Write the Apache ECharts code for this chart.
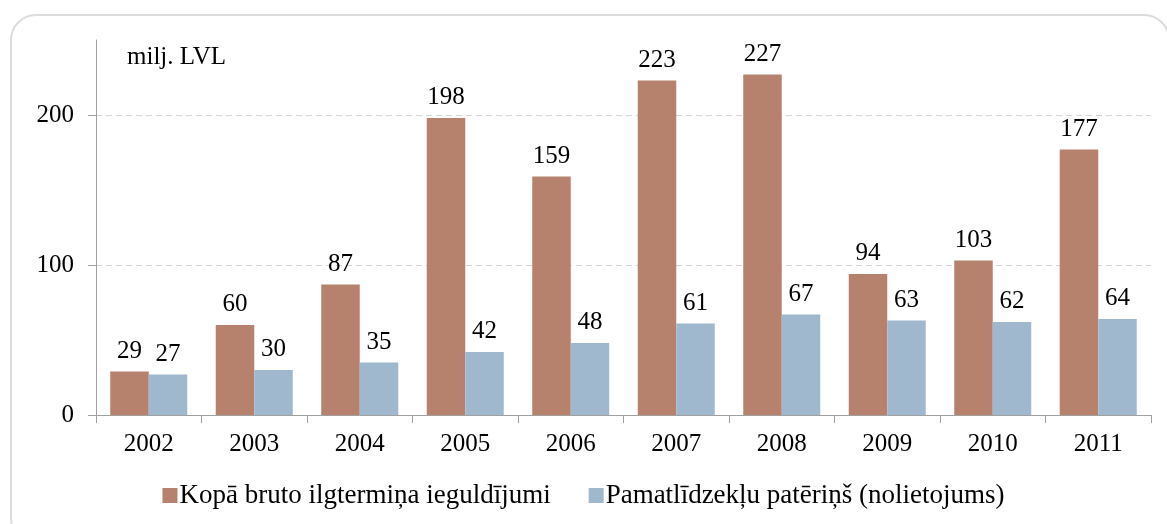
<!DOCTYPE html>
<html>
<head>
<meta charset="utf-8">
<script src="https://cdn.jsdelivr.net/npm/echarts@6/dist/echarts.min.js"></script>
<style>
    html, body { margin: 0; padding: 0; background: #fff; }
    #frame {
        position: absolute; left: 10px; top: 14px; width: 1160px; height: 530px;
        border: 2px solid #dcdcdc; border-radius: 26px; box-sizing: border-box;
    }
    #main { position: absolute; left: 0; top: 0; width: 1167px; height: 524px; }
</style>
</head>
<body>
<div id="frame"></div>
<div id="main"></div>
<script>
var years = ['2002', '2003', '2004', '2005', '2006', '2007', '2008', '2009', '2010', '2011'];
var grossInvestment = [29, 60, 87, 198, 159, 223, 227, 94, 103, 177];
var depreciation = [27, 30, 35, 42, 48, 61, 67, 63, 62, 64];
var seriesNames = ['Kopā bruto ilgtermiņa ieguldījumi', 'Pamatlīdzekļu patēriņš (nolietojums)'];
var yTicks = [0, 100, 200];
var unitLabel = 'milj. LVL';

var fontFam = '"Liberation Serif", "Times New Roman", serif';
var myChart = echarts.init(document.getElementById('main'));

var labelStyle = {
    show: true,
    position: 'top',
    distance: 8,
    color: '#000',
    fontFamily: fontFam,
    fontSize: 25
};

var option = {
    backgroundColor: 'transparent',
    animation: false,
    textStyle: { fontFamily: fontFam },
    title: {
        text: unitLabel,
        left: 122,
        top: 40,
        textStyle: { fontFamily: fontFam, fontSize: 25, fontWeight: 'normal', color: '#000' }
    },
    legend: {
        bottom: 10,
        left: 'center',
        itemWidth: 15,
        itemHeight: 15,
        itemGap: 38,
        icon: 'rect',
        textStyle: { fontFamily: fontFam, fontSize: 27, color: '#000', padding: [0, 0, 0, -3] },
        data: seriesNames
    },
    grid: { left: 96, right: 16, top: 40, bottom: 109 },
    xAxis: {
        type: 'category',
        data: years,
        axisLine: { lineStyle: { color: '#a0a0a0', width: 1 } },
        axisTick: { show: true, length: 8, lineStyle: { color: '#a0a0a0' } },
        axisLabel: { color: '#000', fontFamily: fontFam, fontSize: 25, margin: 17 }
    },
    yAxis: {
        type: 'value',
        min: 0,
        max: 250,
        interval: 100,
        axisLine: { show: true, lineStyle: { color: '#a0a0a0', width: 1 } },
        axisTick: { show: true, length: 8, customValues: yTicks, lineStyle: { color: '#a0a0a0' } },
        axisLabel: { color: '#000', fontFamily: fontFam, fontSize: 25, margin: 22, customValues: yTicks },
        splitLine: { show: true, lineStyle: { color: '#d4d4d4', type: [6, 4] } }
    },
    series: [{
        name: seriesNames[0],
        type: 'bar',
        data: grossInvestment,
        barGap: '0%',
        barCategoryGap: '27%',
        itemStyle: { color: '#b7826d' },
        label: labelStyle
    }, {
        name: seriesNames[1],
        type: 'bar',
        data: depreciation,
        itemStyle: { color: '#a0b8ce' },
        label: labelStyle
    }]
};
myChart.setOption(option);
</script>
</body>
</html>
